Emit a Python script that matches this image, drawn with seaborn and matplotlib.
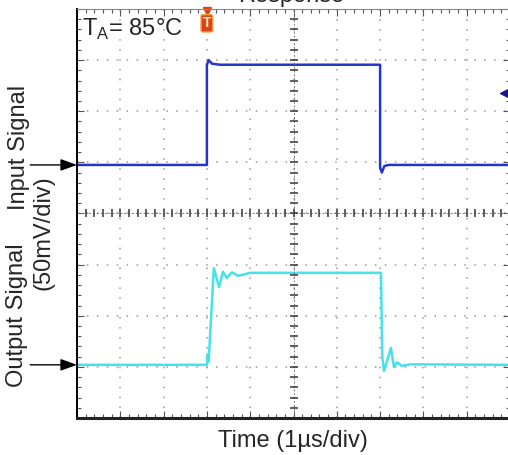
import numpy as np
import pandas as pd
import seaborn as sns
import matplotlib.pyplot as plt
from matplotlib.ticker import MultipleLocator

# Scope traces, x in time divisions (1us/div), y in vertical divisions
input_t = [0.0, 3.0, 3.0, 3.04, 3.12, 3.3, 7.0, 7.0, 7.04, 7.1, 7.2, 10.0]
input_v = [0.95, 0.95, 2.91, 3.0, 2.93, 2.91, 2.91, 0.9, 0.8, 0.93, 0.95, 0.95]

output_t = [0.0, 3.0, 3.02, 3.04, 3.16, 3.28, 3.37, 3.46, 3.58, 3.72, 4.0,
            7.02, 7.05, 7.09, 7.25, 7.32, 7.39, 7.5, 7.7, 10.0]
output_v = [-2.96, -2.96, -2.75, -2.9, -1.07, -1.44, -1.14, -1.26, -1.15, -1.22, -1.16,
            -1.16, -2.8, -3.08, -2.63, -3.0, -2.91, -2.98, -2.95, -2.96]

input_ground = 0.95
output_ground = -2.96
trigger_time = 3.0
trigger_level = 2.36

sns.set_style('white')
plt.rcParams['font.family'] = ['Liberation Sans', 'DejaVu Sans']

fig = plt.figure(figsize=(5.08, 4.55), dpi=100)
ax = fig.add_axes([77 / 508, 1 - 418 / 455, 433 / 508, 409 / 455])

df = pd.concat([
    pd.DataFrame({'t': input_t, 'v': input_v, 'ch': 'Input'}),
    pd.DataFrame({'t': output_t, 'v': output_v, 'ch': 'Output'}),
])
sns.lineplot(data=df, x='t', y='v', hue='ch', palette={'Input': '#2236cc', 'Output': '#45e2ea'},
             sort=False, estimator=None, lw=1.8, legend=False, ax=ax)

ax.set_xlim(0, 10)
ax.set_ylim(-4, 4)
ax.set_xlabel('')
ax.set_ylabel('')
ax.xaxis.set_major_locator(MultipleLocator(1))
ax.yaxis.set_major_locator(MultipleLocator(1))
ax.xaxis.set_minor_locator(MultipleLocator(0.2))
ax.yaxis.set_minor_locator(MultipleLocator(0.2))
ax.tick_params(which='both', direction='in', top=True, right=True, bottom=True, left=True,
               labelbottom=False, labelleft=False, color='#555555', width=0.8)
ax.tick_params(which='major', length=5)
ax.tick_params(which='minor', length=3)
ax.grid(True, which='major', linestyle=(0, (1, 5.5)), color='#999999', lw=1.1)

# center crosshair with fine ticks
ax.axvline(5, color='#777777', lw=0.7, ls=(0, (2, 2)))
ax.axhline(0, color='#777777', lw=0.7, ls=(0, (2, 2)))
ax.plot(np.full(41, 5.0), np.linspace(-4, 4, 41), ls='none', marker='_', ms=6, mew=1.2, color='#444444')
ax.plot(np.linspace(0, 10, 51), np.zeros(51), ls='none', marker='|', ms=6, mew=1.2, color='#444444')

for side in ['top', 'right']:
    ax.spines[side].set_color('#888888')
    ax.spines[side].set_linewidth(0.8)
ax.spines['left'].set_color('black')
ax.spines['left'].set_linewidth(1.4)
ax.spines['bottom'].set_color('#222222')
ax.spines['bottom'].set_linewidth(2.2)

# ground arrows
for g in [input_ground, output_ground]:
    ax.annotate('', xy=(0, g), xycoords='data', xytext=(-0.108, g),
                textcoords=('axes fraction', 'data'), annotation_clip=False,
                arrowprops=dict(arrowstyle='-|>,head_length=0.5,head_width=0.18',
                                mutation_scale=20, color='black', lw=1,
                                shrinkA=0, shrinkB=0))

# trigger markers
ax.plot([trigger_time], [3.97], marker='v', ms=6, color='#e04018', clip_on=False)
ax.text(trigger_time, 3.72, 'T', ha='center', va='center', fontsize=10, fontweight='bold',
        color='#fff2c0', bbox=dict(boxstyle='round,pad=0.12', fc='#e0401a', ec='#f0a040'))
ax.plot([9.85], [trigger_level], marker='<', ms=6, color='#1a1a80', clip_on=False)

fig.text(82 / 508, 1 - 36 / 455, r'T$_\mathregular{A}$= 85°C', fontsize=17, va='baseline', ha='left')

fig.text(291 / 508, 1 - 2 / 455, 'Response', fontsize=17, ha='center', va='baseline')
fig.text(293 / 508, 1 - 441 / 455, 'Time (1µs/div)', fontsize=17, ha='center', va='center')
fig.text(19 / 508, 1 - 147 / 455, 'Input Signal', fontsize=17, rotation=90, ha='center', va='center')
fig.text(44 / 508, 1 - 233 / 455, '(50mV/div)', fontsize=17, rotation=90, ha='center', va='center')
fig.text(17 / 508, 1 - 315 / 455, 'Output Signal', fontsize=17, rotation=90, ha='center', va='center')

fig.savefig('out.png', dpi=100)
